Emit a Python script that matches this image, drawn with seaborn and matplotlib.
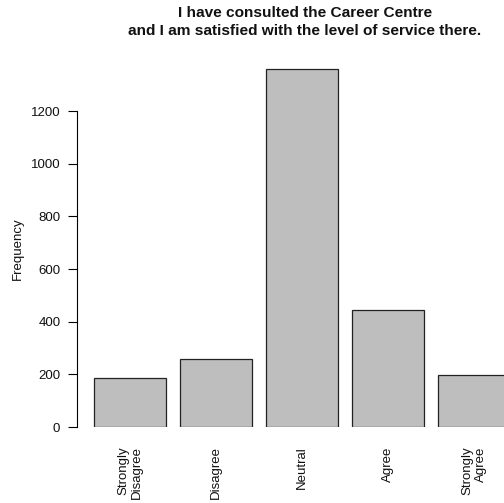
import matplotlib
matplotlib.use("Agg")
import matplotlib.pyplot as plt
import seaborn as sns
import pandas as pd

categories = ["Strongly\nDisagree", "Disagree", "Neutral", "Agree", "Strongly\nAgree"]
frequencies = [186, 258, 1360, 444, 197]
yticks = [0, 200, 400, 600, 800, 1000, 1200]
title = "I have consulted the Career Centre\nand I am satisfied with the level of service there."

sns.set_theme(style="white")
plt.rcParams['font.family'] = ['Liberation Sans', 'DejaVu Sans']

W, H = 504, 503
fig = plt.figure(figsize=(W / 100, H / 100), dpi=100)
left_px, right_px, bottom_px, top_px = 77, 504, 427, 60
ax = fig.add_axes([left_px / W, 1 - bottom_px / H, (right_px - left_px) / W, (bottom_px - top_px) / H])

df = pd.DataFrame({"cat": categories, "freq": frequencies})
sns.barplot(data=df, x="cat", y="freq", ax=ax, color="#bebebe", saturation=1,
            edgecolor="#222222", linewidth=0.9, width=0.837, order=categories)

px_per_unit = 86.0
ax.set_xlim((left_px - 130) / px_per_unit, (right_px - 130) / px_per_unit)
ax.set_ylim(0, (bottom_px - top_px) / 0.2633)

fs = 9.5
ax.set_yticks(yticks)
ax.set_yticklabels([str(v) for v in yticks])
ax.tick_params(axis="y", which="both", direction="out", length=6.5, width=0.8,
               color="black", pad=5.5, labelsize=fs, labelcolor="#111111", left=True)
ax.tick_params(axis="x", length=0, pad=14, labelsize=fs, labelcolor="#111111")
for lab in ax.get_xticklabels():
    lab.set_rotation(90)
    lab.set_va("top")
    lab.set_ha("center")
    lab.set_multialignment("right")

for s in ["top", "right", "bottom"]:
    ax.spines[s].set_visible(False)
ax.spines["left"].set_bounds(0, 1200)
ax.spines["left"].set_color("black")
ax.spines["left"].set_linewidth(0.8)
ax.set_xlabel("")
ax.set_ylabel("")

fig.text(18 / W, 1 - 249 / H, "Frequency", rotation=90, ha="center", va="center",
         fontsize=fs, color="#111111")
fig.text(305 / W, 1 - 6 / H, title, ha="center", va="top", fontsize=11.1,
         fontweight="bold", linespacing=1.4, color="#111111")

fig.savefig("out.png", dpi=100)
